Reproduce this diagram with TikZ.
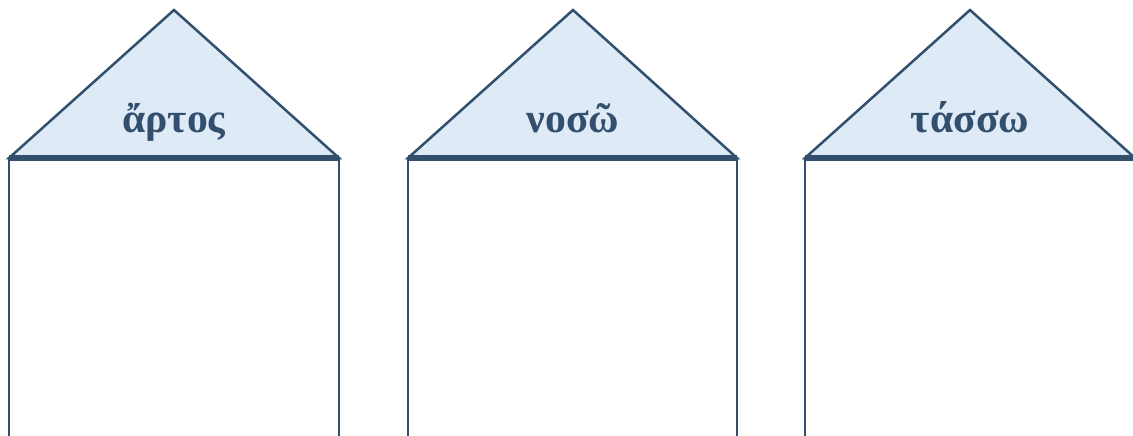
\documentclass[tikz,border=0pt]{standalone}
\usepackage{fontspec}
\setmainfont{Liberation Serif}
\definecolor{houseline}{RGB}{50,80,110}
\definecolor{roofblue}{RGB}{222,234,246}
\tikzset{roof/.style={fill=roofblue,draw=houseline,line width=1.5pt,line join=miter},
  wall/.style={draw=houseline,line width=1.7pt},
  eave/.style={draw=houseline,line width=3.2pt},
  word/.style={text=houseline,anchor=base,font=\fontsize{25}{30}\selectfont\bfseries}}

\begin{document}
\begin{tikzpicture}[x=0.6pt,y=-0.6pt]
  \path[use as bounding box] (0,0) rectangle (1133,435);
  \foreach \cx/\l/\r/\w/\nm in {174/9/339/ἄρτος/artos,573/408/737/νοσῶ/noso,970/805/1135/τάσσω/tasso}{
    \draw[wall] (\l,158) -- (\l,445) (\r,158) -- (\r,445);
    \draw[roof] (\l,158) -- (\cx,10) -- (\r,158) -- cycle;
    \draw[eave] (\l,158) -- (\r,158);
    \node[word] (\nm) at (\cx,132) {\w};
  }
\end{tikzpicture}
\end{document}
